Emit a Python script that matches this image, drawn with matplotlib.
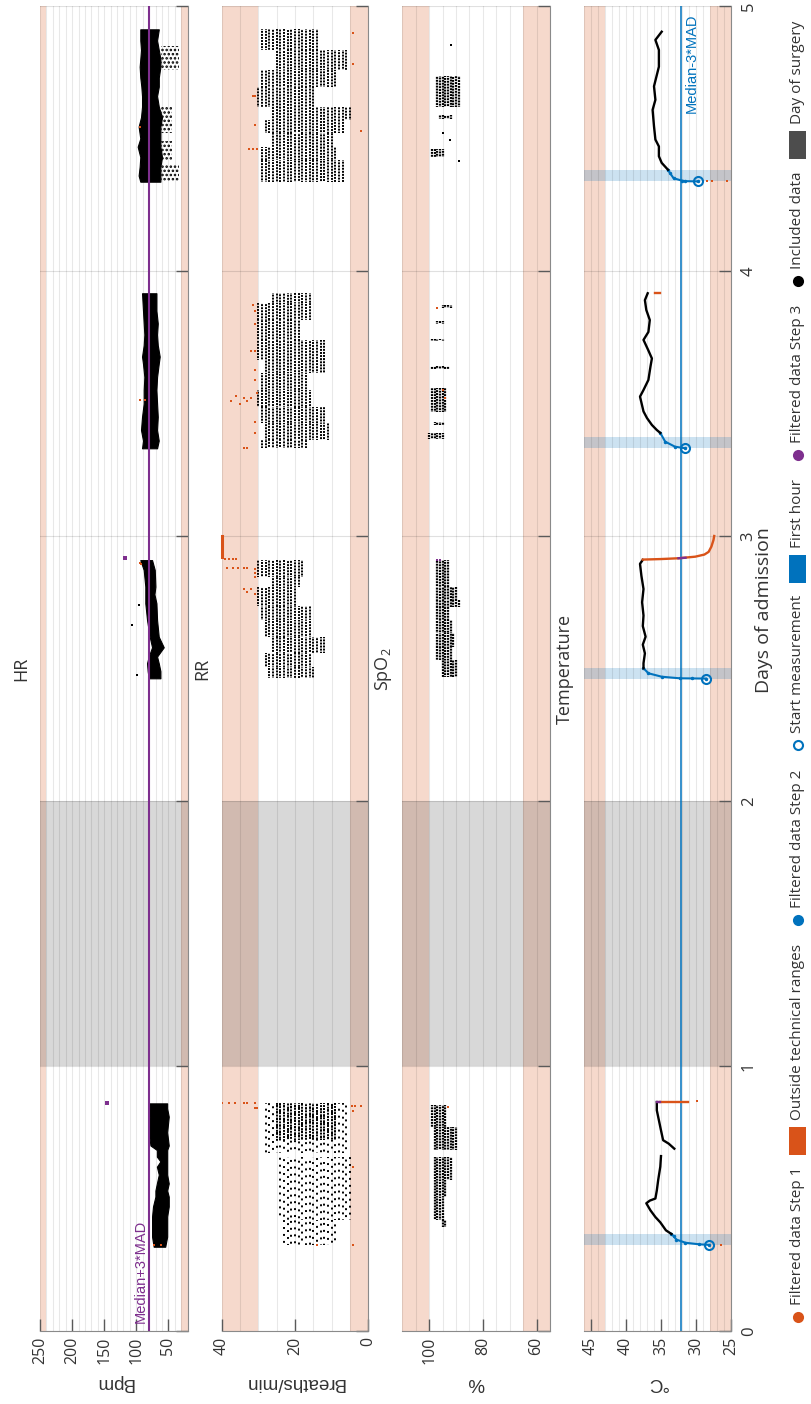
import numpy as np
import matplotlib.pyplot as plt
import matplotlib.transforms as mtransforms
from matplotlib.lines import Line2D
from matplotlib.patches import Rectangle
from matplotlib.ticker import MultipleLocator

plt.rcParams['lines.scale_dashes'] = False
plt.rcParams['mathtext.fontset'] = 'custom'
plt.rcParams['mathtext.rm'] = 'Open Sans'
plt.rcParams['hatch.linewidth'] = 1.2

W, H = 812, 1404
ORANGE = '#D95319'
BLUE = '#0072BD'
PURPLE = '#7E2F8E'
SURGERY = '#404040'
TXT = '#333333'
UI = 'Open Sans'
ARIAL = 'Liberation Sans'

# ---------------- heart rate (bpm): band per recording (day, low, high)
hr_days = [
    [0.318, 0.356, 0.40, 0.432, 0.47, 0.507, 0.53, 0.557, 0.59, 0.620, 0.64, 0.658, 0.683, 0.70, 0.75, 0.809, 0.84, 0.859],
    [2.463, 2.49, 2.52, 2.545, 2.58, 2.62, 2.683, 2.746, 2.78, 2.809, 2.872, 2.909],
    [3.331, 3.36, 3.40, 3.45, 3.50, 3.551, 3.60, 3.65, 3.677, 3.72, 3.76, 3.802, 3.85, 3.916],
    [4.337, 4.36, 4.394, 4.43, 4.469, 4.50, 4.545, 4.58, 4.62, 4.66, 4.696, 4.73, 4.771, 4.80, 4.834, 4.87, 4.912],
]
hr_low = [
    [55, 52, 52, 52, 49.5, 49.5, 52, 49.5, 52, 52, 52, 52, 52, 49.5, 52, 49.5, 52, 52],
    [62.5, 62.5, 65.1, 67.7, 57.3, 65.1, 67.7, 68.7, 71.8, 70.3, 71.3, 75.5],
    [67.7, 65.1, 67.7, 66.6, 67.7, 68.7, 67.7, 65.1, 63.6, 66.6, 67.7, 66.6, 68.7, 68.7],
    [62.5, 62.5, 62.5, 60, 62.5, 62.5, 62.5, 60, 65, 67.7, 65, 65, 62.5, 62.5, 65, 67.7, 65],
]
hr_high = [
    [73, 75.5, 75.5, 75.5, 74, 70.3, 70.3, 68, 65, 68, 62.5, 68, 68, 78, 80.7, 79.4, 80.7, 80.7],
    [80.7, 82.3, 83.3, 80.7, 75.5, 79.2, 83.3, 86, 86, 86, 88.5, 93.8],
    [91.1, 89.6, 92.7, 91.1, 88.5, 88.5, 87.5, 89.6, 91.1, 88.5, 87.5, 88.5, 89.6, 91.1],
    [93.8, 96.4, 94.8, 93.8, 97.9, 93.8, 96.4, 92.7, 91.1, 91.1, 92.2, 93.8, 94.8, 93.8, 92.7, 93.8, 93.8],
]
# scattered low readings around the last recording
hr_sparse_start = [4.337, 4.42, 4.52, 4.76]
hr_sparse_end = [4.40, 4.49, 4.62, 4.85]
hr_sparse_low = [34, 44, 44, 34]
hr_sparse_high = [62, 62, 62, 62]
hr_dot_val = [96.4, 106.8, 99]
hr_dot_day = [2.74, 2.664, 2.475]
hr_step1_val = [94, 92, 94, 86, 72, 61, 94]
hr_step1_day = [2.90, 2.895, 3.513, 3.513, 0.326, 0.326, 4.545]
hr_step3_val = [145, 117]
hr_step3_day = [0.859, 2.917]
hr_limit = 81

# ---------------- respiratory rate: integer columns per time bin
rr_start = [0.72,
            2.846, 2.809, 2.734, 2.683, 2.620, 2.557, 2.507, 2.463,
            3.878, 3.815, 3.740, 3.664, 3.614, 3.551, 3.488, 3.425, 3.362, 3.331,
            4.834, 4.759, 4.696, 4.620, 4.570, 4.519, 4.469, 4.419, 4.337]
rr_end = [0.859,
          2.909, 2.846, 2.809, 2.734, 2.683, 2.620, 2.557, 2.507,
          3.916, 3.878, 3.815, 3.740, 3.664, 3.614, 3.551, 3.488, 3.425, 3.362,
          4.912, 4.834, 4.759, 4.696, 4.620, 4.570, 4.519, 4.469, 4.419]
rr_low = [9,
          18, 19, 20, 16, 16, 12, 16, 15,
          16, 16, 19, 12, 12, 17, 16, 12, 11, 17,
          13.5, 6, 9, 14.5, 5, 7, 10, 9, 7]
rr_high = [25,
           30, 26.5, 30, 29, 28, 26.5, 28, 27,
           26, 30, 30, 30, 28, 29, 30, 29, 28, 29,
           29, 25, 29, 30, 26.5, 28, 26.5, 29, 29]
rr_sparse_start = [0.67, 0.419, 0.325]
rr_sparse_end = [0.859, 0.658, 0.419]
rr_sparse_low = [6, 5, 9]
rr_sparse_high = [28, 24.7, 23]
rr_step1_val = [40, 38, 36.5, 34, 33, 31, 31, 30.5, 4.5, 3.5, 2, 4.2, 4.2, 14, 4.2,
                39, 38, 37, 36, 38.5, 37, 35.5, 34, 33, 31, 31, 31, 34, 33, 32, 31,
                31.5, 31, 31, 32, 31, 31, 31, 30.5, 32, 33, 34, 35, 36, 37.5, 31, 31, 34, 33,
                4.3, 4.3, 31.5, 31, 31, 1.9, 32.5, 31.5, 30.5]
rr_step1_day = [0.859, 0.859, 0.859, 0.859, 0.859, 0.859, 0.84, 0.84, 0.85, 0.85, 0.85, 0.83, 0.62, 0.325, 0.325,
                2.915, 2.915, 2.915, 2.915, 2.88, 2.88, 2.88, 2.88, 2.88, 2.875, 2.86, 2.845, 2.80, 2.79, 2.80, 2.78,
                3.87, 3.85, 3.80, 3.70, 3.70, 3.625, 3.59, 3.54, 3.52, 3.51, 3.52, 3.50, 3.53, 3.51, 3.43, 3.39, 3.331, 3.331,
                4.90, 4.78, 4.66, 4.66, 4.55, 4.53, 4.46, 4.46, 4.46]
rr_clip_start, rr_clip_end = 2.92, 3.0

# ---------------- SpO2 (%): integer columns per time bin
spo2_start = [0.771, 0.683, 0.570, 0.507, 0.419, 0.394,
              2.809, 2.76, 2.733, 2.683, 2.633, 2.582, 2.532, 2.469,
              3.86, 3.80, 3.735, 3.63, 3.469, 3.42, 3.365,
              4.62, 4.575, 4.43]
spo2_end = [0.853, 0.771, 0.658, 0.570, 0.507, 0.419,
            2.909, 2.809, 2.76, 2.733, 2.683, 2.633, 2.582, 2.532,
            3.87, 3.81, 3.745, 3.64, 3.56, 3.43, 3.39,
            4.735, 4.59, 4.46]
spo2_low = [93.75, 90, 91.9, 93.1, 95, 93.1,
            92.5, 90, 88.1, 92.5, 91.25, 90.6, 91.25, 89.4,
            91.9, 94.4, 95, 92.5, 93.75, 94.4, 95,
            88.1, 91.25, 94.4]
spo2_high = [99.4, 98.75, 98.1, 98.75, 98.75, 95.6,
             97.5, 97.5, 97.5, 97.5, 97.2, 97.5, 97.2, 95.6,
             95, 97.5, 99.4, 99.4, 99.4, 98.4, 100,
             97.5, 96.9, 99.4]
spo2_dot_val = [91.9, 95, 92.2, 88.75]
spo2_dot_day = [4.853, 4.52, 4.494, 4.415]
spo2_step1_val = [93.1, 97, 95, 94]
spo2_step1_day = [0.847, 3.86, 3.55, 3.52]
spo2_step3_val = [97, 96]
spo2_step3_day = [2.91, 2.91]

# ---------------- temperature (deg C)
temp_start_day = [0.325, 2.462, 3.331, 4.338]
temp_start_val = [28.1, 28.6, 31.55, 29.7]
temp_warmup_day = [
    [0.325, 0.327, 0.333, 0.345, 0.358, 0.366],
    [2.462, 2.4625, 2.463, 2.469, 2.482, 2.501],
    [3.331, 3.337, 3.356, 3.389],
    [4.338, 4.339, 4.341, 4.35, 4.369, 4.382],
]
temp_warmup_val = [
    [28.1, 29.5, 31.5, 32.8, 33.2, 33.5],
    [28.6, 30.5, 32.3, 34.9, 36.8, 37.5],
    [31.55, 33.0, 34.4, 35.1],
    [29.7, 31.5, 32.0, 33.2, 33.7, 34.0],
]
temp_days = [
    [0.366, 0.38, 0.41, 0.43, 0.455, 0.482, 0.492, 0.50, 0.53, 0.57, 0.62, 0.66],
    [0.688, 0.707, 0.72, 0.757, 0.795, 0.833, 0.864],
    [2.501, 2.52, 2.557, 2.59, 2.62, 2.66, 2.70, 2.75, 2.80, 2.85, 2.895, 2.91],
    [3.389, 3.40, 3.419, 3.445, 3.47, 3.526, 3.551, 3.589, 3.64, 3.67, 3.70, 3.74, 3.77, 3.815, 3.853, 3.89, 3.916],
    [4.382, 4.408, 4.433, 4.47, 4.496, 4.546, 4.608, 4.646, 4.697, 4.771, 4.834, 4.872, 4.903],
]
temp_vals = [
    [33.5, 34.3, 35.1, 35.8, 36.5, 37.1, 36.6, 35.8, 35.6, 35.4, 35.1, 35.0],
    [33.1, 33.9, 34.7, 35.0, 35.3, 35.6, 35.6],
    [37.5, 37.5, 37.3, 37.6, 37.2, 37.6, 37.5, 37.7, 37.5, 37.8, 38.0, 37.6],
    [35.1, 35.6, 36.3, 37.0, 37.5, 38.0, 37.5, 36.8, 36.5, 36.3, 36.8, 37.5, 36.8, 36.6, 37.1, 37.3, 36.9],
    [34.0, 34.9, 35.3, 35.3, 35.8, 36.0, 36.2, 35.8, 36.0, 35.3, 35.3, 35.8, 34.9],
]
# cooling after the sensor came off
temp_off_day = [[0.866, 0.866], [2.911, 2.913, 2.916, 2.922, 2.93, 2.94, 2.96, 2.985, 3.0], [3.917, 3.917]]
temp_off_val = [[35.2, 31.1], [37.6, 35.0, 32.5, 30.1, 28.8, 28.2, 27.8, 27.5, 27.4], [35.8, 35.1]]
temp_step3_day = [[0.866, 0.866], [2.916, 2.918]]
temp_step3_val = [[35.6, 35.2], [32.5, 31.5]]
temp_step1_val = [26.4, 29.8, 27.85, 29.0, 28.4, 27.7, 25.6]
temp_step1_day = [0.325, 0.868, 2.462, 4.338, 4.338, 4.338, 4.338]
temp_limit = 32.2

first_hour = 1 / 24

# ---------------- layout helpers (pixel positions on the page)
fig = plt.figure(figsize=(W / 100, H / 100), dpi=100)


def fx(x):
    return x / W


def fy(y):
    return 1 - y / H


AX_TOP, AX_BOTTOM = 6, 1331


def add_panel(x0, x1):
    return fig.add_axes([fx(x0), fy(AX_BOTTOM), (x1 - x0) / W, (AX_BOTTOM - AX_TOP) / H])


def style(ax, lo, hi, step, ticks, safe_lo, safe_hi, label_days=False):
    ax.set_xlim(hi, lo)
    ax.set_ylim(0, 5)
    ax.axvspan(safe_hi, hi, color=ORANGE, alpha=0.22, lw=0, zorder=0.1)
    ax.axvspan(lo, safe_lo, color=ORANGE, alpha=0.22, lw=0, zorder=0.1)
    ax.axhspan(1, 2, color=SURGERY, alpha=0.2, lw=0, zorder=0.2)
    ax.set_xticks(ticks)
    ax.xaxis.set_minor_locator(MultipleLocator(step))
    ax.set_yticks(range(6))
    ax.yaxis.tick_right()
    ax.grid(axis='x', which='both', color='k', alpha=0.09, lw=0.8)
    ax.grid(axis='y', which='major', color='k', alpha=0.12, lw=0.8)
    ax.set_axisbelow(True)
    for s in ('left', 'top'):
        ax.spines[s].set_visible(False)
    for s in ('bottom', 'right'):
        ax.spines[s].set_color('#8a8a8a')
    ax.tick_params(which='major', direction='in', length=9, width=1, color='#5a5a5a')
    ax.tick_params(which='minor', length=0)
    ax.tick_params(axis='x', labelrotation=90, labelsize=11.5, pad=4, labelcolor=TXT)
    ax.tick_params(axis='y', labelright=label_days, labelrotation=90, labelsize=12,
                   pad=7, labelcolor=TXT)
    for t in ax.get_xticklabels() + ax.get_yticklabels():
        t.set_fontfamily(UI)
    for t in ax.get_yticklabels():
        t.set_va('center')


def columns(ax, start, end, low, high, color, on, off, lw=1.4):
    # one dotted column per integer reading; dash phase shuffled per column
    period = on + off
    for d0, d1, lo, hi in zip(start, end, low, high):
        vals = np.arange(np.ceil(lo), np.floor(hi) + 1)
        styles = [((v * v * 0.618 + d0 * 97) % period, (on, off)) for v in vals]
        ax.vlines(vals, d0, d1, colors=color, lw=lw, linestyles=styles, zorder=3)


def dots(ax, vals, days, color, ms=2.0):
    ax.plot(vals, days, 's', color=color, ms=ms, mew=0, zorder=4)


ax_hr = add_panel(40, 187.7)
ax_rr = add_panel(221.7, 368.3)
ax_sp = add_panel(402.3, 550)
ax_t = add_panel(584, 731)

style(ax_hr, 20, 250, 10, [50, 100, 150, 200, 250], 30, 240)
style(ax_rr, 0, 40, 5, [0, 20, 40], 5, 30)
style(ax_sp, 55, 110, 5, [60, 80, 100], 65, 100)
style(ax_t, 25, 46, 1, [25, 30, 35, 40, 45], 28, 43, label_days=True)

# ---- HR
for d, lo, hi in zip(hr_days, hr_low, hr_high):
    ax_hr.fill_betweenx(d, lo, hi, color='k', lw=0.8, zorder=3)
for s, e, lo, hi in zip(hr_sparse_start, hr_sparse_end, hr_sparse_low, hr_sparse_high):
    ax_hr.fill_betweenx([s, e], lo, hi, facecolor='none', edgecolor='k', hatch='....', lw=0, zorder=3)
dots(ax_hr, hr_dot_val, hr_dot_day, 'k')
dots(ax_hr, hr_step1_val, hr_step1_day, ORANGE)
dots(ax_hr, hr_step3_val, hr_step3_day, PURPLE, ms=3.0)
ax_hr.axvline(hr_limit, color=PURPLE, lw=1.5, zorder=5)
ax_hr.text(hr_limit, 0.03, 'Median+3*MAD', rotation=90, ha='right', va='bottom',
           color=PURPLE, fontsize=10.5, family=ARIAL,
           transform=mtransforms.offset_copy(ax_hr.transData, fig, x=-1, units='dots'))

# ---- RR
columns(ax_rr, rr_start, rr_end, rr_low, rr_high, 'k', 1.4, 0.8)
columns(ax_rr, rr_sparse_start, rr_sparse_end, rr_sparse_low, rr_sparse_high, 'k', 1.4, 3.6)
dots(ax_rr, rr_step1_val, rr_step1_day, ORANGE)
ax_rr.plot([40, 40], [rr_clip_start, rr_clip_end], color=ORANGE, lw=2.2, zorder=4, clip_on=False)

# ---- SpO2
columns(ax_sp, spo2_start, spo2_end, spo2_low, spo2_high, 'k', 1.4, 0.7, lw=1.6)
dots(ax_sp, spo2_dot_val, spo2_dot_day, 'k')
dots(ax_sp, spo2_step1_val, spo2_step1_day, ORANGE)
dots(ax_sp, spo2_step3_val, spo2_step3_day, PURPLE)

# ---- temperature
ax_t.axvline(temp_limit, color=BLUE, lw=1.1, zorder=2)
ax_t.text(temp_limit, 4.97, 'Median-3*MAD', rotation=90, ha='left', va='top',
          color=BLUE, fontsize=10.5, family=ARIAL,
          transform=mtransforms.offset_copy(ax_t.transData, fig, x=4, units='dots'))
for d0 in temp_start_day:
    ax_t.axhspan(d0, d0 + first_hour, color=BLUE, alpha=0.2, lw=0, zorder=0.3)
for d, v in zip(temp_warmup_day, temp_warmup_val):
    ax_t.plot(v, d, color=BLUE, lw=1.5, marker='.', ms=3, zorder=4)
for d, v in zip(temp_days, temp_vals):
    ax_t.plot(v, d, color='k', lw=1.7, zorder=4)
for d, v in zip(temp_off_day, temp_off_val):
    ax_t.plot(v, d, color=ORANGE, lw=1.7, zorder=4)
for d, v in zip(temp_step3_day, temp_step3_val):
    ax_t.plot(v, d, color=PURPLE, lw=1.7, zorder=5)
dots(ax_t, temp_step1_val, temp_step1_day, ORANGE)
ax_t.plot(temp_start_val, temp_start_day, 'o', mfc='none', mec=BLUE, ms=6.5, mew=1.5, zorder=6)

# ---- titles and axis names
titles = ['HR', 'RR', 'SpO$_2$', 'Temperature']
units = ['Bpm', 'Breaths/min', '%', '°C']
lefts = [40, 221.7, 402.3, 584]
centres = [113.8, 295, 476, 657.5]
for t, u, xl, xc in zip(titles, units, lefts, centres):
    fig.text(fx(xl - 19), fy(669), t, rotation=90, ha='center', va='center',
             fontsize=13, family=UI, color=TXT)
    fig.text(fx(xc), fy(1383), u, rotation=180, ha='center', va='center',
             fontsize=13.5, family=ARIAL, color=TXT)
fig.text(fx(764), fy(610), 'Days of admission', rotation=90, ha='center', va='center',
         fontsize=14, family=UI, color=TXT)

# ---- legend, laid out along the right edge
legend_kind = ['dot', 'patch', 'dot', 'ring', 'patch', 'dot', 'dot', 'patch']
legend_color = [ORANGE, ORANGE, BLUE, BLUE, BLUE, PURPLE, 'k', '#4d4d4d']
legend_text = ['Filtered data Step 1', 'Outside technical ranges', 'Filtered data Step 2',
               'Start measurement', 'First hour', 'Filtered data Step 3', 'Included data',
               'Day of surgery']

fig.canvas.draw()
rend = fig.canvas.get_renderer()
lx = 798.0
ly = 1329.0
for i, (kind, col, label) in enumerate(zip(legend_kind, legend_color, legend_text)):
    if i:
        ly -= 12
    if kind == 'patch':
        fig.add_artist(Rectangle((fx(lx - 8.5), fy(ly)), 17 / W, 28 / H,
                                 transform=fig.transFigure, color=col, lw=0))
        ly -= 35
    else:
        face = 'none' if kind == 'ring' else col
        fig.add_artist(Line2D([fx(lx)], [fy(ly - 12)], transform=fig.transFigure,
                              marker='o', ms=6.5, mfc=face, mec=col, mew=1.5, ls='none'))
        ly -= 24
    t = fig.text(fx(lx), fy(ly), label, rotation=90, ha='center', va='bottom',
                 fontsize=11, family=UI, color=TXT)
    ly -= t.get_window_extent(rend).height

fig.savefig('out.png', dpi=100)
